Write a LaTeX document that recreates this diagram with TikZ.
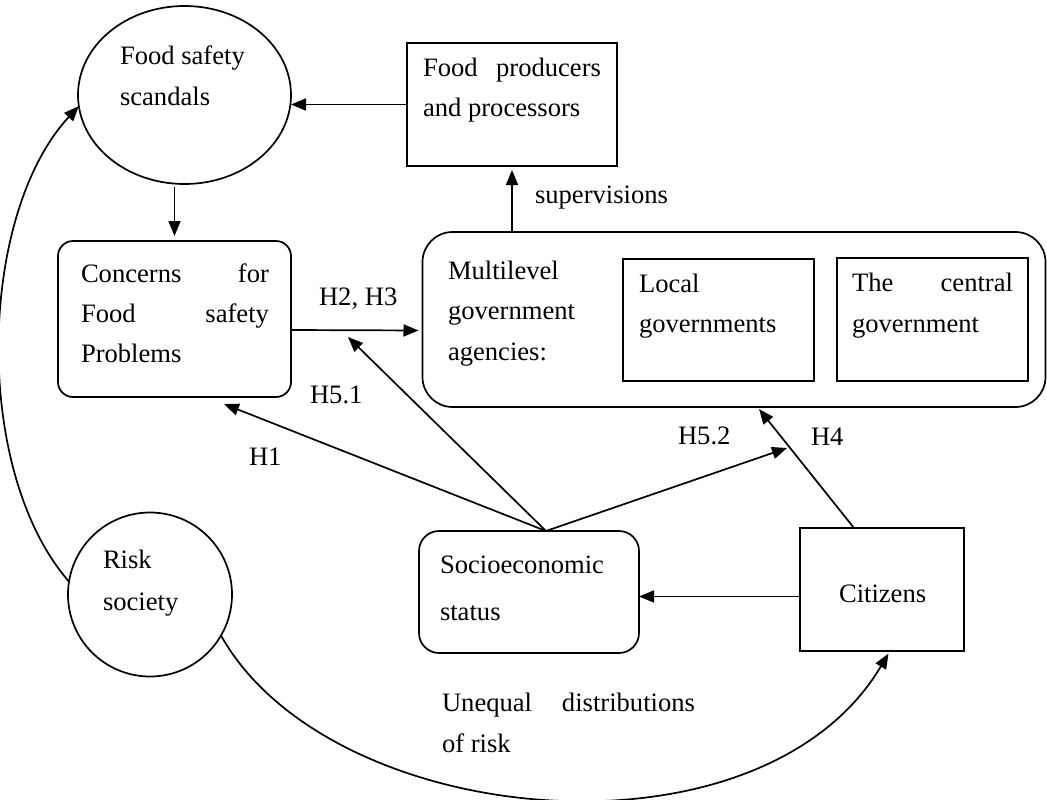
\documentclass[tikz,border=0pt]{standalone}
\usepackage{fontspec}
\setmainfont{Liberation Serif}
\usetikzlibrary{arrows.meta,shapes.geometric}
\newcommand\tb[2]{\parbox[t]{400pt}{\fontsize{26.6}{#1}\selectfont\raggedright #2}}
\newcommand\jl[2]{\makebox[#1][l]{#2}}
\begin{document}
\begin{tikzpicture}[x=1pt,y=-1pt,
  line width=1.7pt,
  arr/.style={-{Triangle[length=15pt,width=12pt]}},
  txt/.style={anchor=base west,inner sep=0pt,outer sep=0pt},
  box/.style={draw,rectangle,inner sep=0pt,outer sep=0pt},
  rbox/.style={box,rounded corners=#1},
  rbox/.default=15pt]
\useasboundingbox (0,0) rectangle (1047,800);

% shapes
\node[draw,ellipse,minimum width=213pt,minimum height=178pt,inner sep=0pt,outer sep=0pt] (fss) at (184.5,95) {};
\node[box,minimum width=210pt,minimum height=123pt] (prod) at (512,104.5) {};
\node[rbox=15pt,minimum width=233pt,minimum height=156pt] (conc) at (174.5,319) {};
\node[rbox=30pt,minimum width=623pt,minimum height=175pt] (multi) at (734,319.5) {};
\node[box,minimum width=191pt,minimum height=122pt] (local) at (718.5,320) {};
\node[box,minimum width=191pt,minimum height=123pt] (central) at (932.5,319.5) {};
\node[draw,circle,minimum size=164pt,inner sep=0pt,outer sep=0pt] (risk) at (150,594.5) {};
\node[rbox=20pt,minimum width=220pt,minimum height=122pt] (socio) at (529,592) {};
\node[box,minimum width=164pt,minimum height=123pt] (cit) at (882,589.5) {};

% free ends
\coordinate (sTop) at ([xshift=17pt]socio.north);
\coordinate (cTop) at ([xshift=-28pt]cit.north);
\coordinate (h1end) at (224,404);
\coordinate (h51end) at (348,337);
\coordinate (h52end) at (787,448);
\coordinate (h4end) at (759,409);

% connectors
\draw[arr] (prod.west) -- (prod.west -| fss.east);
\draw[arr,shorten <=3pt,shorten >=5pt] (fss.south -| conc.north) -- (conc.north);
\draw[arr,shorten >=4pt] ([yshift=-11pt]conc.east) -- ([yshift=-11pt]multi.west);
\draw[arr,shorten >=4pt] (multi.north -| prod.south) -- (prod.south);
\draw[arr] ([yshift=-7pt]cit.west) -- ([yshift=-7pt]cit.west -| socio.east);
\draw[arr] (sTop) -- (h1end);
\draw[arr] (sTop) -- (h51end);
\draw[arr] (sTop) -- (h52end);
\draw[arr] (cTop) -- (h4end);
\draw[arr] (risk.171) .. controls (-28,470) and (-22,215) .. (fss.186);
\draw[arr,shorten >=3pt] (risk.-30) .. controls (330,830) and (760,870) .. ([xshift=8pt]cit.south);

% texts
\node[txt] (tfss) at (120,65) {\tb{41pt}{Food safety\\scandals}};
\node[txt] (tprod) at (423,77) {\tb{40pt}{\jl{178pt}{Food\hfill producers}\\and processors}};
\node[txt] (tconc) at (81,282) {\tb{40pt}{\jl{188pt}{Concerns\hfill for}\\\jl{188pt}{Food\hfill safety}\\Problems}};
\node[txt] (tmulti) at (448,279) {\tb{40.5pt}{Multilevel\\government\\agencies:}};
\node[txt] (tlocal) at (639,292) {\tb{40pt}{Local\\governments}};
\node[txt] (tcentral) at (852,291) {\tb{41pt}{\jl{161pt}{The\hfill central}\\government}};
\node[txt] (trisk) at (103,568) {\tb{42pt}{Risk\\society}};
\node[txt] (tsocio) at (440,573) {\tb{47pt}{Socioeconomic\\status}};
\node[txt] (tcit) at (839,602) {\tb{40pt}{Citizens}};
\node[txt] (tuneq) at (442,711) {\tb{41pt}{\jl{253pt}{Unequal\hfill distributions}\\of risk}};
\node[txt] (lsup) at (535,203) {\tb{40pt}{supervisions}};
\node[txt] (lh23) at (319,305) {\tb{40pt}{H2, H3}};
\node[txt] (lh51) at (310,403) {\tb{40pt}{H5.1}};
\node[txt] (lh1) at (249,465) {\tb{40pt}{H1}};
\node[txt] (lh52) at (678,444) {\tb{40pt}{H5.2}};
\node[txt] (lh4) at (811,445) {\tb{40pt}{H4}};
\end{tikzpicture}
\end{document}
